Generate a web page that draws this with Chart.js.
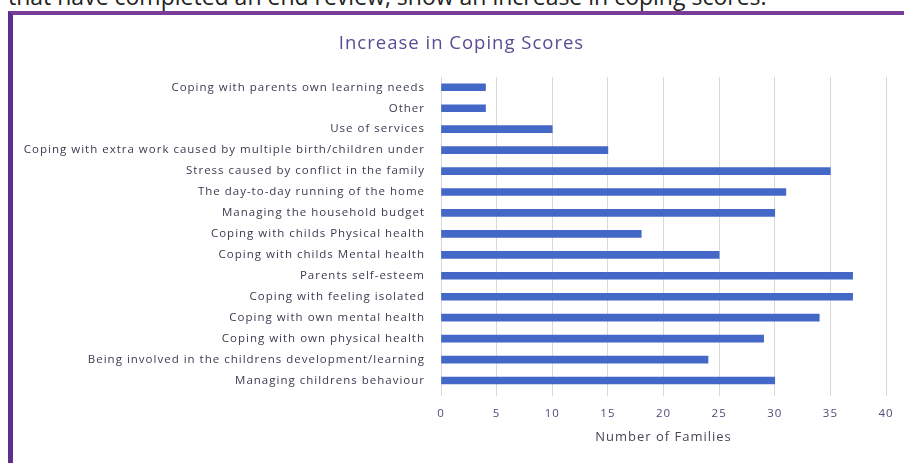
<!DOCTYPE html>
<html>
<head>
<meta charset="utf-8">
<script src="https://cdn.jsdelivr.net/npm/chart.js@4.4.1/dist/chart.umd.min.js"></script>
<style>
    body { margin: 0; background: #fff; width: 904px; height: 463px; overflow: hidden; position: relative; }
    #lead {
        position: absolute; left: 8px; top: -15px;
        font: 23px/23px "Open Sans", sans-serif; color: #222; white-space: nowrap;
    }
    #frame {
        position: absolute; left: 8px; top: 11px; width: 1000px; height: 460px;
        border-left: 5px solid #5b2e8f; border-top: 4px solid #7a3d97;
    }
    #chart { position: absolute; left: 0; top: 0; }
</style>
</head>
<body>
<div id="lead">that have completed an end review, show an increase in coping scores.</div>
<div id="frame"></div>
<canvas id="chart" width="904" height="463"></canvas>
<script>
const categories = [
    "Coping with parents own learning needs",
    "Other",
    "Use of services",
    "Coping with extra work caused by multiple birth/children under",
    "Stress caused by conflict in the family",
    "The day-to-day running of the home",
    "Managing the household budget",
    "Coping with childs Physical health",
    "Coping with childs Mental health",
    "Parents self-esteem",
    "Coping with feeling isolated",
    "Coping with own mental health",
    "Coping with own physical health",
    "Being involved in the childrens development/learning",
    "Managing childrens behaviour"
];
const familyCounts = [4, 4, 10, 15, 35, 31, 30, 18, 25, 37, 37, 34, 29, 24, 30];
const axisMin = 0;
const axisMax = 40;
const axisStep = 5;

const fontName = '"Open Sans", sans-serif';

const chartCanvas = document.getElementById("chart");

// the scanned chart has loose letter spacing everywhere,
// and its title sits centred on the frame rather than the canvas
const scanPlugin = {
    id: 'scan',
    afterLayout: function (chart) {
        if (chart.titleBlock) chart.titleBlock.left = 37;
    },
    beforeDraw: function (chart) {
        chart.ctx.letterSpacing = '1px';
    }
};

let copingChart = new Chart(chartCanvas, {
    type: 'bar',
    data: {
        labels: categories,
        datasets: [{
            label: 'Number of Families',
            data: familyCounts,
            backgroundColor: '#4468c8',
            barThickness: 7
        }]
    },
    plugins: [scanPlugin],
    options: {
        indexAxis: 'y',
        responsive: false,
        animation: false,
        layout: { padding: { left: 0, right: 18, top: 0, bottom: 18 } },
        plugins: {
            legend: { display: false },
            tooltip: { enabled: false },
            title: {
                display: true,
                text: 'Increase in Coping Scores',
                color: '#5b4b94',
                font: { family: fontName, size: 18.5, weight: 'normal' },
                padding: { top: 33, bottom: 21.6 }
            }
        },
        scales: {
            x: {
                min: axisMin,
                max: axisMax,
                afterFit: function (scale) { scale.height = 54; },
                ticks: {
                    stepSize: axisStep,
                    color: '#55487a',
                    padding: 11,
                    font: { family: fontName, size: 11.5 }
                },
                grid: { color: '#d9d9d9', drawTicks: true, tickLength: 5 },
                border: { display: false },
                title: {
                    display: true,
                    text: 'Number of Families',
                    color: '#4b4458',
                    font: { family: fontName, size: 13 },
                    padding: { top: 11, bottom: 0 }
                }
            },
            y: {
                afterFit: function (scale) { scale.width = 441; },
                ticks: {
                    color: '#3f3850',
                    padding: 16,
                    font: { family: fontName, size: 11.5 }
                },
                grid: { display: false, drawTicks: false },
                border: { display: false }
            }
        }
    }
});
</script>
</body>
</html>
